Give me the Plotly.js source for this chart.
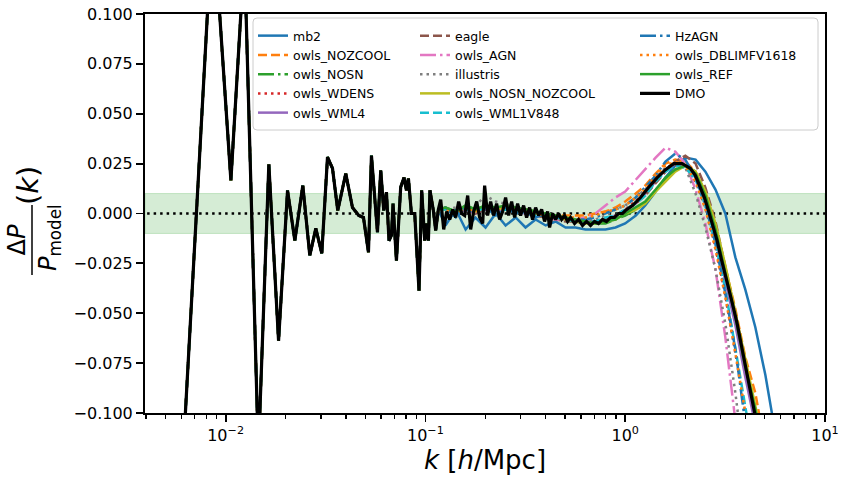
<!DOCTYPE html>
<html>
<head>
<meta charset="utf-8">
<script src="https://cdn.plot.ly/plotly-3.0.1.min.js"></script>
<style>html,body{margin:0;padding:0;background:#fff;}#chart{width:848px;height:488px;}</style>
</head>
<body>
<div id="chart"></div>
<script>
// ---- data ----
// low-k part, identical for every simulation
const kLow = [0.00598,0.00864,0.01063,0.01242,0.01459,0.01646,0.01841,0.02042,0.02221,0.02435,0.02639,0.02828,0.0303,0.03236,0.03428,0.03642,0.03994,0.04315,0.04639,0.04898,0.05188,0.0537,0.05754,0.05977,0.06187,0.06383,0.06577,0.06761,0.06887,0.07161,0.07524,0.07816,0.08035,0.08222,0.08511,0.08842,0.0929,0.09583,0.0992,0.1015,0.1035,0.1054,0.1096,0.1126,0.1161];
const vLow = [-0.14,0.15,0.0166,0.13,-0.12,0.0246,-0.0638,0.0116,-0.0136,0.014,-0.021,-0.0075,-0.02,0.0283,0.0226,0.0015,0.02,0.003,-0.001,-0.002,-0.0194,0.029,-0.0094,0.0216,0.0015,0.0107,-0.0136,-0.011,0.005,-0.0236,0.0132,0.018,0.0116,0.0176,0.0,0.0,-0.0387,0.0116,-0.0136,-0.005,-0.0136,0.0116,0.0015,-0.0085,0.002];

// DMO beyond k ~ 0.12
const kDMO = [0.1193,0.1235,0.1278,0.1323,0.137,0.1417,0.1467,0.1519,0.1572,0.1628,0.1685,0.1744,0.1806,0.1869,0.1935,0.1979,0.2048,0.2121,0.2195,0.2272,0.2352,0.2435,0.252,0.2609,0.2701,0.2796,0.2894,0.2996,0.3101,0.321,0.3323,0.344,0.3561,0.3686,0.3816,0.395,0.4089,0.4184,0.4331,0.4483,0.4641,0.4804,0.4973,0.5148,0.5329,0.558,0.5843,0.6118,0.6406,0.6708,0.7024,0.7354,0.7701,0.8063,0.8443,0.8841,0.9257,0.9694,1.0035,1.0877,1.1927,1.3078,1.4454,1.5903,1.7498,1.9275,2.1208,2.2464,2.3796,2.4918,2.6093,2.7324,2.884,3.0304,3.2359,3.4004,3.6308,3.8151,4.0738,4.2805,4.4822,4.6935];
const vDMO = [0.007,-0.008,0.001,-0.003,0.002,-0.002,0.006,0.0,-0.001,0.009,-0.008,0.001,0.006,-0.002,-0.005,0.014,-0.001,0.006,-0.001,0.005,-0.003,0.001,0.008,-0.001,0.006,-0.002,0.005,-0.001,0.004,-0.002,0.003,-0.003,0.003,-0.001,0.002,-0.004,0.001,-0.007,0.0,-0.003,0.0,-0.003,-0.001,-0.004,-0.002,-0.005,-0.003,-0.006,-0.004,-0.006,-0.004,-0.005,-0.003,-0.004,-0.002,-0.002,0.0,0.0,0.0015,0.004,0.008,0.013,0.018,0.022,0.025,0.025,0.0226,0.019,0.0132,0.008,0.0015,-0.005,-0.0136,-0.023,-0.0337,-0.043,-0.055,-0.066,-0.079,-0.09,-0.1,-0.112];

// hydro runs beyond k ~ 0.12
const kHi = [0.126,0.142,0.159,0.178,0.2,0.225,0.252,0.283,0.317,0.356,0.4,0.448,0.503,0.564,0.633,0.71,0.797,0.894,1.0,1.13,1.26,1.42,1.59,1.78,2.0,2.25,2.52,2.83,3.17,3.56,3.99,4.48,5.03,5.64];
const mb2 = [-0.006,0.002,-0.008,-0.002,-0.007,0.0,-0.006,-0.002,-0.007,-0.003,-0.006,-0.004,-0.007,-0.007,-0.008,-0.008,-0.008,-0.007,-0.005,-0.001,0.004,0.011,0.018,0.024,0.028,0.027,0.021,0.012,0.0,-0.022,-0.038,-0.057,-0.081,-0.11];
const owls_NOZCOOL = [0.003,0.0,0.003,0.001,0.004,0.002,0.004,0.003,0.002,0.001,0.0,-0.001,-0.001,-0.001,-0.001,0.0,0.001,0.003,0.006,0.01,0.014,0.02,0.025,0.027,0.026,0.021,0.01,-0.006,-0.026,-0.048,-0.072,-0.09,-0.118,-0.15];
const owls_NOSN = [0.003,0.001,0.004,0.002,0.004,0.002,0.004,0.003,0.002,0.001,0.0,-0.001,-0.002,-0.003,-0.004,-0.005,-0.005,-0.003,-0.001,0.002,0.005,0.011,0.017,0.022,0.024,0.021,0.01,-0.006,-0.027,-0.05,-0.074,-0.097,-0.123,-0.15];
const owls_WDENS = [0.002,0.0,0.002,0.0,0.003,0.001,0.002,0.001,0.0,-0.001,-0.002,-0.002,-0.003,-0.004,-0.004,-0.004,-0.003,-0.001,0.002,0.006,0.01,0.016,0.021,0.024,0.023,0.016,0.003,-0.017,-0.041,-0.07,-0.1,-0.13,-0.16,-0.19];
const owls_WML4 = [0.002,0.0,0.002,0.0,0.002,0.001,0.002,0.001,0.0,0.0,-0.001,-0.002,-0.003,-0.003,-0.004,-0.004,-0.003,-0.001,0.002,0.005,0.01,0.016,0.022,0.025,0.024,0.018,0.006,-0.012,-0.034,-0.056,-0.082,-0.106,-0.135,-0.165];
const eagle = [0.002,0.0,0.003,0.0,0.002,0.001,0.002,0.001,0.0,-0.001,-0.002,-0.003,-0.004,-0.004,-0.005,-0.004,-0.003,-0.001,0.002,0.005,0.009,0.015,0.021,0.026,0.029,0.025,0.013,-0.004,-0.026,-0.05,-0.075,-0.1,-0.13,-0.16];
const owls_AGN = [0.002,0.0,0.003,0.001,0.003,0.001,0.003,0.001,0.0,-0.001,-0.002,-0.003,-0.003,-0.003,-0.002,0.0,0.004,0.008,0.011,0.017,0.022,0.028,0.033,0.031,0.025,0.012,-0.005,-0.028,-0.062,-0.108,-0.15,-0.19,-0.23,-0.27];
const illustris = [0.002,0.003,0.0,0.004,0.009,0.006,0.005,0.003,0.002,0.0,-0.001,-0.002,-0.003,-0.004,-0.004,-0.003,-0.001,0.002,0.004,0.008,0.012,0.018,0.023,0.025,0.023,0.01,-0.007,-0.028,-0.055,-0.09,-0.13,-0.17,-0.21,-0.25];
const owls_NOSN_NOZCOOL = [0.002,0.0,0.003,0.001,0.003,0.002,0.003,0.002,0.001,0.0,-0.001,-0.002,-0.003,-0.004,-0.005,-0.005,-0.004,-0.003,0.0,0.002,0.005,0.011,0.016,0.021,0.024,0.021,0.011,-0.005,-0.026,-0.049,-0.073,-0.095,-0.12,-0.15];
const owls_WML1V848 = [0.002,0.0,0.002,0.001,0.003,0.001,0.002,0.001,0.0,-0.001,-0.001,-0.002,-0.003,-0.004,-0.004,-0.004,-0.002,-0.001,0.002,0.005,0.009,0.016,0.021,0.024,0.023,0.017,0.004,-0.015,-0.038,-0.066,-0.094,-0.125,-0.155,-0.185];
const HzAGN = [0.003,-0.002,0.004,0.0,0.003,-0.001,0.003,0.0,0.001,-0.002,0.0,-0.002,-0.002,-0.003,-0.003,-0.002,0.0,0.002,0.004,0.008,0.013,0.019,0.026,0.03,0.027,0.018,0.004,-0.015,-0.04,-0.068,-0.105,-0.14,-0.17,-0.2];
const owls_DBLIMFV1618 = [0.002,0.0,0.003,0.001,0.003,0.002,0.003,0.002,0.001,0.0,-0.001,-0.001,-0.002,-0.002,-0.002,-0.001,0.001,0.002,0.004,0.008,0.012,0.019,0.024,0.026,0.024,0.016,0.002,-0.018,-0.042,-0.07,-0.1,-0.13,-0.16,-0.19];
const owls_REF = [0.003,0.001,0.004,0.002,0.004,0.003,0.004,0.003,0.002,0.001,0.0,-0.001,-0.002,-0.003,-0.004,-0.005,-0.004,-0.003,0.0,0.003,0.006,0.012,0.018,0.022,0.024,0.02,0.009,-0.008,-0.029,-0.052,-0.077,-0.098,-0.125,-0.155];

const xTickVals = [0.01, 0.1, 1, 10];
const xTickText = ['10<sup>−2</sup>', '10<sup>−1</sup>', '10<sup>0</sup>', '10<sup>1</sup>'];
const xMinorVals = [0.004,0.005,0.006,0.007,0.008,0.009,0.02,0.03,0.04,0.05,0.06,0.07,0.08,0.09,0.2,0.3,0.4,0.5,0.6,0.7,0.8,0.9,2,3,4,5,6,7,8,9];
const yTickVals = [-0.1,-0.075,-0.05,-0.025,0,0.025,0.05,0.075,0.1];

// ---- styles ----
const DASH = '9px,4px', DASHDOT = '16px,4px,2.5px,4px', DOT = '2.5px,4px';
const runs = [
  {name:'mb2', y:mb2, color:'#1f77b4', dash:'solid', legend:'legend'},
  {name:'owls_NOZCOOL', y:owls_NOZCOOL, color:'#ff7f0e', dash:DASH, legend:'legend'},
  {name:'owls_NOSN', y:owls_NOSN, color:'#2ca02c', dash:DASHDOT, legend:'legend'},
  {name:'owls_WDENS', y:owls_WDENS, color:'#d62728', dash:DOT, legend:'legend'},
  {name:'owls_WML4', y:owls_WML4, color:'#9467bd', dash:'solid', legend:'legend'},
  {name:'eagle', y:eagle, color:'#8c564b', dash:DASH, legend:'legend2'},
  {name:'owls_AGN', y:owls_AGN, color:'#e377c2', dash:DASHDOT, legend:'legend2'},
  {name:'illustris', y:illustris, color:'#7f7f7f', dash:DOT, legend:'legend2'},
  {name:'owls_NOSN_NOZCOOL', y:owls_NOSN_NOZCOOL, color:'#bcbd22', dash:'solid', legend:'legend2'},
  {name:'owls_WML1V848', y:owls_WML1V848, color:'#17becf', dash:DASH, legend:'legend2'},
  {name:'HzAGN', y:HzAGN, color:'#1f77b4', dash:DASHDOT, legend:'legend3'},
  {name:'owls_DBLIMFV1618', y:owls_DBLIMFV1618, color:'#ff7f0e', dash:DOT, legend:'legend3'},
  {name:'owls_REF', y:owls_REF, color:'#2ca02c', dash:'solid', legend:'legend3'}
];

const traces = [];
traces.push({x:[0.003, 20], y:[0, 0], mode:'lines', showlegend:false, hoverinfo:'skip',
  line:{color:'black', width:2.5, dash:DOT}});
runs.forEach((r, i) => {
  traces.push({x:kLow.concat(kHi), y:vLow.concat(r.y), name:r.name, mode:'lines',
    legend:r.legend, legendgroup:'g'+i,
    line:{color:r.color, width:2.5, dash:r.dash}});
});
traces.push({x:kLow.concat(kDMO), y:vLow.concat(vDMO), name:'DMO', mode:'lines',
  legend:'legend3', legendgroup:'gDMO', line:{color:'black', width:3.2}});

// pixel helpers for paper coordinates (plot area 145..825 x 14..413)
const PL=145, PR=825, PT=14, PB=413;
const px = v => (v-PL)/(PR-PL);
const py = v => (PB-v)/(PB-PT);

const legFont = {family:'DejaVu Sans', size:12.5, color:'#000'};
const legCommon = {font:legFont, bgcolor:'rgba(0,0,0,0)', borderwidth:0, xanchor:'left', yanchor:'top',
  traceorder:'grouped', tracegroupgap:0, itemclick:false};

// rounded legend frame
function rr(x0,y0,x1,y1,r){
  const X0=px(x0), X1=px(x1), Y0=py(y0), Y1=py(y1);
  const rx=r/(PR-PL), ry=r/(PB-PT);
  return `M${X0+rx},${Y0} L${X1-rx},${Y0} Q${X1},${Y0} ${X1},${Y0-ry} L${X1},${Y1+ry} Q${X1},${Y1} ${X1-rx},${Y1} L${X0+rx},${Y1} Q${X0},${Y1} ${X0},${Y1+ry} L${X0},${Y0-ry} Q${X0},${Y0} ${X0+rx},${Y0} Z`;
}

const ann = (x, y, text, size) => ({xref:'paper', yref:'paper', x:px(x), y:py(y), text:text,
  showarrow:false, textangle:-90, xanchor:'center', yanchor:'middle',
  font:{size:size, family:'DejaVu Sans', color:'#000'}});

const layout = {
  width:848, height:488,
  margin:{l:PL, r:848-PR, t:PT, b:488-PB},
  paper_bgcolor:'white', plot_bgcolor:'white',
  font:{family:'DejaVu Sans', color:'#000'},
  showlegend:true,
  xaxis:{type:'log', range:[Math.log10(0.00395), 1], showgrid:false, zeroline:false,
    showline:true, linecolor:'black', linewidth:2, mirror:true,
    tickmode:'array', tickvals:xTickVals, ticktext:xTickText,
    ticks:'outside', ticklen:7, tickwidth:1.8, tickcolor:'black',
    tickfont:{size:16, family:'DejaVu Sans'},
    minor:{tickmode:'array', tickvals:xMinorVals, ticks:'outside', ticklen:4, tickwidth:1.3, tickcolor:'black', showgrid:false},
    title:{text:'<i>k</i> [<i>h</i>/Mpc]', standoff:2, font:{size:26, family:'DejaVu Sans'}}},
  yaxis:{range:[-0.1, 0.1], showgrid:false, zeroline:false,
    showline:true, linecolor:'black', linewidth:2, mirror:true,
    tickmode:'array', tickvals:yTickVals, tickformat:'.3f',
    ticks:'outside', ticklen:7, tickwidth:1.8, tickcolor:'black',
    tickfont:{size:16, family:'DejaVu Sans'}},
  legend: Object.assign({x:px(253), y:py(21)}, legCommon),
  legend2: Object.assign({x:px(415), y:py(21)}, legCommon),
  legend3: Object.assign({x:px(635), y:py(21)}, legCommon),
  shapes:[
    {type:'rect', xref:'paper', yref:'y', x0:0, x1:1, y0:-0.01, y1:0.01,
     fillcolor:'rgba(44,160,44,0.2)', line:{color:'rgba(44,160,44,0.22)', width:1}, layer:'below'},
    {type:'path', xref:'paper', yref:'paper', path:rr(253,18,818,130,4),
     fillcolor:'rgba(255,255,255,0.8)', line:{color:'#cccccc', width:1}, layer:'above'},
    {type:'line', xref:'paper', yref:'paper', x0:px(32), x1:px(32), y0:py(205), y1:py(275),
     line:{color:'black', width:1.5}}
  ],
  annotations:[
    ann(16.5, 240, 'Δ<i>P</i>', 24),
    ann(49, 238, '<i>P</i><sub>model</sub>', 24),
    ann(28, 186, '(<i>k</i>)', 29)
  ]
};

Plotly.newPlot('chart', traces, layout, {displayModeBar:false, staticPlot:true});
</script>
</body>
</html>
